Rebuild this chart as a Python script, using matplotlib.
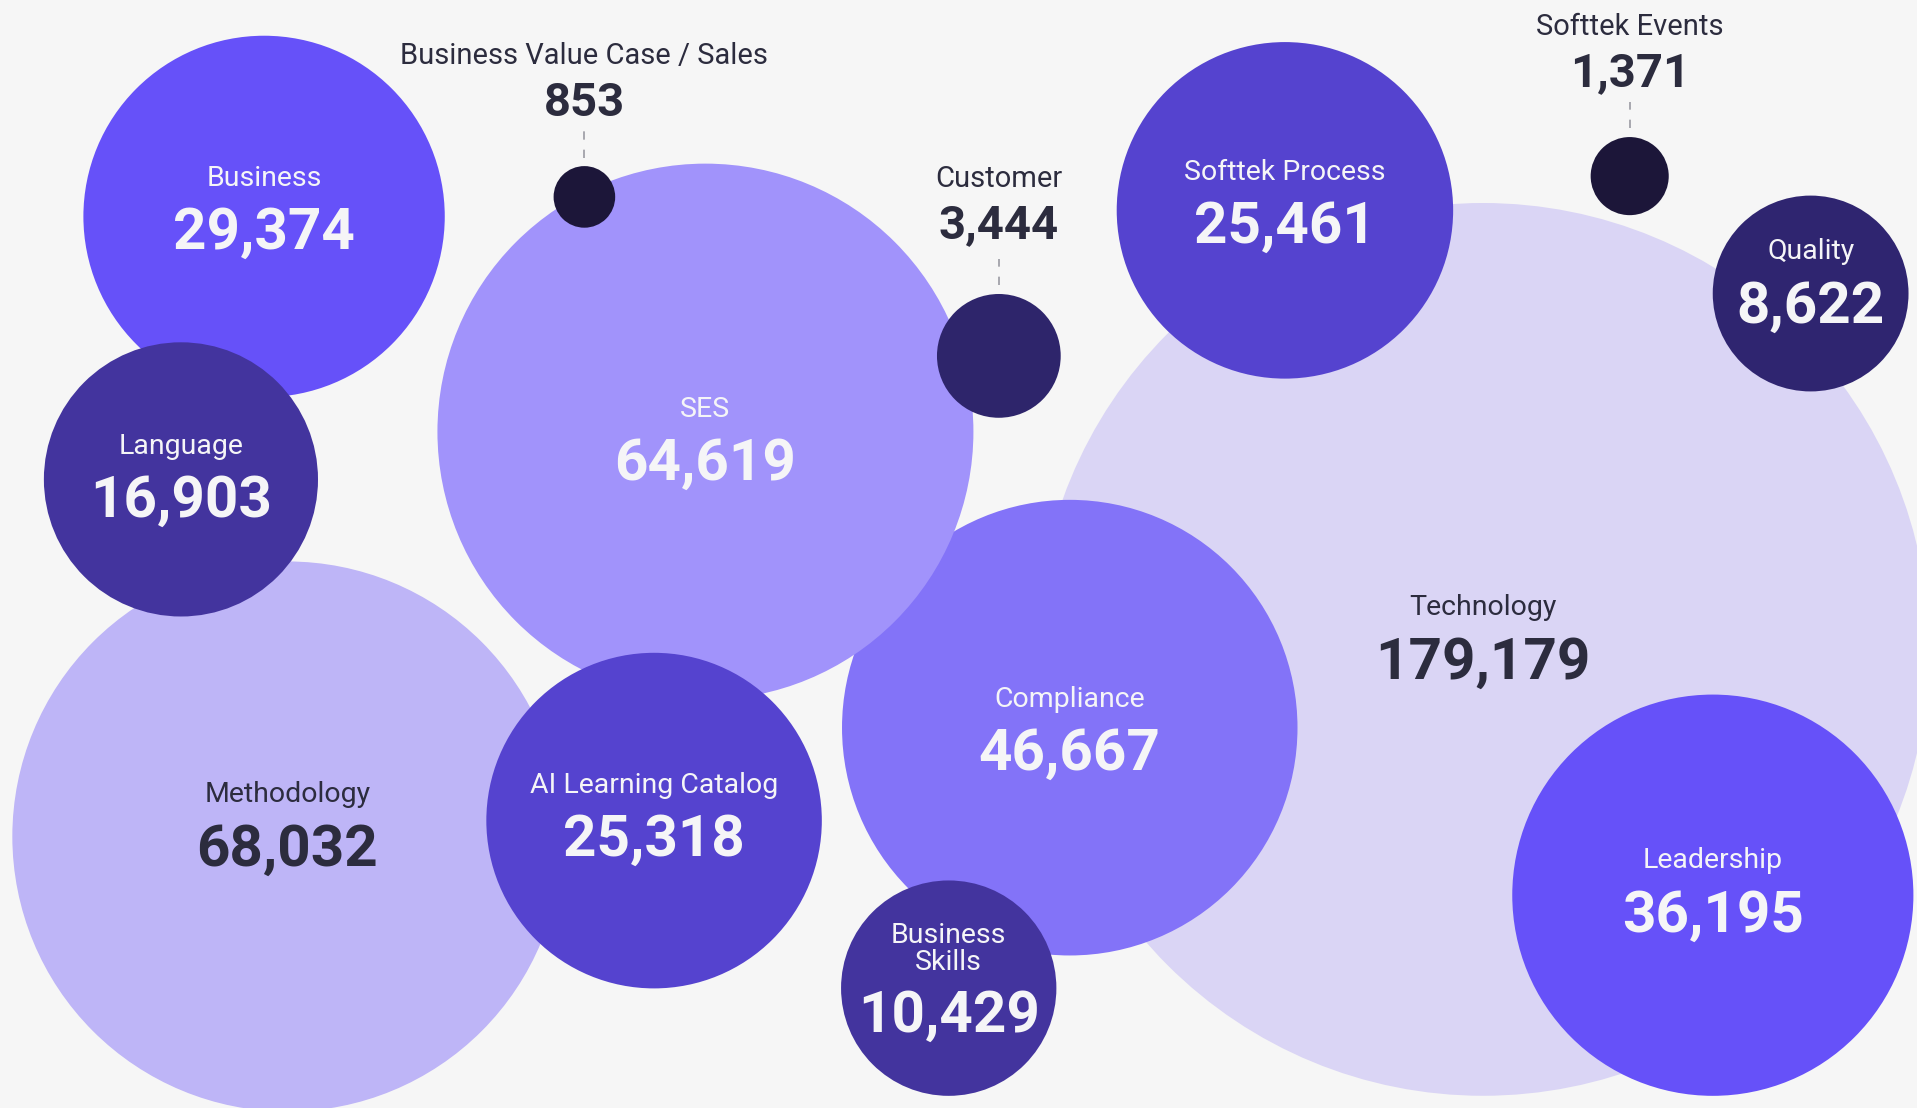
import matplotlib.pyplot as plt
from matplotlib.patches import Circle
import numpy as np

plt.rcParams['font.family'] = ['Roboto', 'DejaVu Sans']

# Datos (orden = orden de dibujo, de atrás hacia adelante)
categorias = ["Technology", "Compliance", "SES", "Business", "Methodology",
              "Language", "AI Learning Catalog", "Business\nSkills", "Customer",
              "Softtek Process", "Quality", "Leadership",
              "Business Value Case / Sales", "Softtek Events"]
valores = [179179, 46667, 64619, 29374, 68032, 16903, 25318, 10429, 3444,
           25461, 8622, 36195, 853, 1371]

# Layout de las burbujas (centros en el lienzo de 1568 x 906)
centros_x = [1213, 875, 577, 216, 235, 148, 535, 776, 817, 1051, 1481, 1401, 478, 1333]
centros_y = [531, 595, 353, 177, 684, 392, 671, 808, 291, 172, 240, 732, 161, 144]
colores = ["#dad5f5", "#8373f8", "#a193fb", "#6651f9", "#beb5f7", "#43349e",
           "#5543cf", "#43349e", "#2e256b", "#5543cf", "#2f2570", "#6651f9",
           "#1c1639", "#1c1639"]

OSCURO = "#2c2c3e"
CLARO = "#f5f5f7"
texto_oscuro = {"Technology", "Methodology"}
etiqueta_fuera = {"Customer", "Business Value Case / Sales", "Softtek Events"}
ajuste_y = {"SES": 13, "Compliance": 8, "Technology": -3, "Quality": -3,
            "Language": 4, "Methodology": -3, "Leadership": 3,
            "AI Learning Catalog": 2, "Customer": -4}

escala = 0.8623  # radio = escala * sqrt(valor)

fig = plt.figure(figsize=(19.17, 11.08), dpi=100)
fig.patch.set_facecolor("#f6f6f6")
ax = fig.add_axes([0, 0, 1, 1])
ax.set_xlim(0, 1568)
ax.set_ylim(906, 0)
ax.axis("off")

for i, (nombre, valor) in enumerate(zip(categorias, valores)):
    cx, cy = centros_x[i], centros_y[i]
    r = escala * np.sqrt(valor)
    ax.add_patch(Circle((cx, cy), r, facecolor=colores[i], edgecolor="none", zorder=i))
    num = f"{valor:,}"
    dy = ajuste_y.get(nombre, 0)
    if nombre in etiqueta_fuera:
        top = cy - r
        ax.plot([cx, cx], [top - 7, top - 29], color="#9a9aa2", lw=1.2,
                ls=(0, (5, 6)), zorder=50)
        ax.text(cx, top - 52 + dy, num, ha="center", va="center", fontsize=34,
                fontweight="bold", color=OSCURO, zorder=60)
        ax.text(cx, top - 90 + dy, nombre, ha="center", va="center", fontsize=21,
                color=OSCURO, zorder=60)
    else:
        col = OSCURO if nombre in texto_oscuro else CLARO
        if "\n" in nombre:
            ax.text(cx, cy - 32, nombre, ha="center", va="center", fontsize=20.5,
                    color=col, linespacing=0.97, zorder=60)
            ax.text(cx, cy + 23, num, ha="center", va="center", fontsize=42,
                    fontweight="bold", color=col, zorder=60)
        else:
            ax.text(cx, cy - 31 + dy, nombre, ha="center", va="center", fontsize=20.5,
                    color=col, zorder=60)
            ax.text(cx, cy + 14 + dy, num, ha="center", va="center", fontsize=42,
                    fontweight="bold", color=col, zorder=60)

fig.savefig("out.png", dpi=100, facecolor=fig.get_facecolor())
